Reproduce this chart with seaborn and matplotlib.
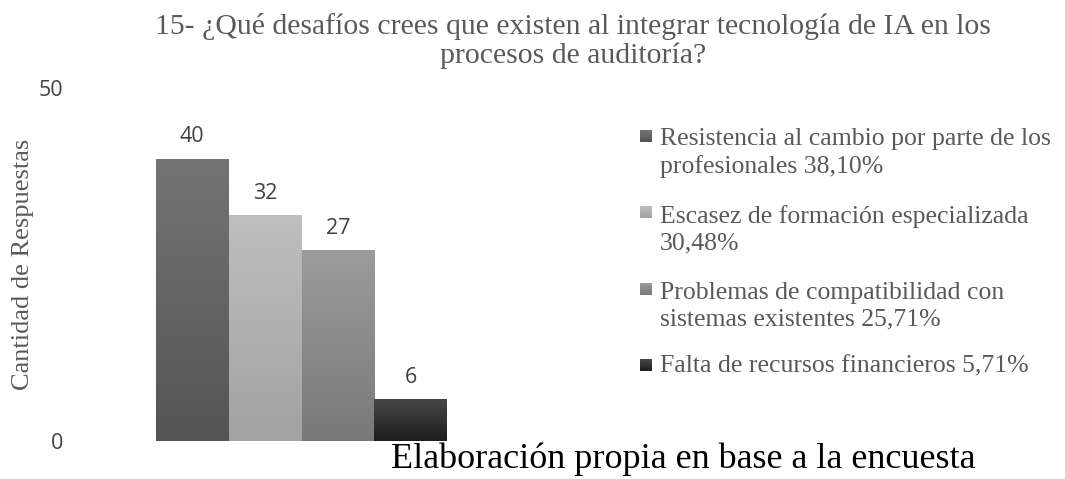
import textwrap
import numpy as np
import pandas as pd
import seaborn as sns
import matplotlib.pyplot as plt
from matplotlib.colors import to_rgb

# datos
desafios = [
    "Resistencia al cambio por parte de los profesionales",
    "Escasez de formación especializada",
    "Problemas de compatibilidad con sistemas existentes",
    "Falta de recursos financieros",
]
respuestas = [40, 32, 27, 6]
porcentajes = ["38,10%", "30,48%", "25,71%", "5,71%"]
yticks = [0, 50]

titulo = "15- ¿Qué desafíos crees que existen al integrar tecnología de IA en los\nprocesos de auditoría?"
ylabel = "Cantidad de Respuestas"
fuente = "Elaboración propia en base a la encuesta"

# colores (arriba, abajo) del degradado de cada barra
degradados = [("#747474", "#545454"), ("#bebebe", "#a2a2a2"),
              ("#9b9b9b", "#797979"), ("#474747", "#1e1e1e")]
base = ["#616161", "#b1b1b1", "#8a8a8a", "#2e2e2e"]

df = pd.DataFrame({"grupo": "", "desafio": desafios, "respuestas": respuestas})

sns.set_theme(style="white")
plt.rcParams["font.family"] = ["Liberation Serif", "DejaVu Serif"]
sans = ["Open Sans", "DejaVu Sans"]

W, H = 1065, 479
fig = plt.figure(figsize=(W / 100, H / 100), dpi=100)
ax = fig.add_axes([83 / W, 1 - 441 / H, 437 / W, 353 / H])

sns.barplot(data=df, x="grupo", y="respuestas", hue="desafio", palette=base,
            hue_order=desafios, saturation=1, width=0.8, gap=0, linewidth=0,
            legend=False, ax=ax)

# degradado vertical dentro de cada barra
for patch, (top, bot) in zip(ax.patches, degradados):
    x0, y0 = patch.get_x(), patch.get_y()
    w, h = patch.get_width(), patch.get_height()
    grad = np.linspace(to_rgb(top), to_rgb(bot), 64)[:, None, :]
    im = ax.imshow(grad, extent=[x0, x0 + w, y0, y0 + h], aspect="auto",
                   origin="upper", zorder=patch.get_zorder() + 0.1)
    im.set_clip_path(patch)

for cont in ax.containers:
    ax.bar_label(cont, fmt="%d", padding=8, fontsize=15.5, color="#404040",
                 family=sans)

ax.set_xlim(-0.6, 0.6)
ax.set_ylim(0, 50)
ax.set_yticks(yticks)
ax.set_xticks([])
ax.set_xlabel("")
ax.set_ylabel("")
ax.tick_params(axis="y", length=0, pad=14, labelsize=15.5, labelcolor="#404040")
for lab in ax.get_yticklabels():
    lab.set_family(sans)
sns.despine(ax=ax, left=True, bottom=True)

# capa en pixeles para textos y leyenda
lax = fig.add_axes([0, 0, 1, 1])
lax.set_xlim(0, W)
lax.set_ylim(H, 0)
lax.axis("off")

lax.text(573, 63, titulo, ha="center", va="baseline", fontsize=21.4,
         color="#595959", linespacing=1.12)
lax.text(23, 264, ylabel, ha="center", va="center", rotation=90,
         fontsize=19, color="#595959")
lax.text(683, 468, fuente, ha="center", va="baseline", fontsize=26,
         color="black")

for i, (d, p, (top, bot)) in enumerate(zip(desafios, porcentajes, degradados)):
    yb = 144 + 76.3 * i
    etiqueta = textwrap.fill(f"{d} {p}", width=38)
    n = etiqueta.count("\n")
    sq = np.linspace(to_rgb(top), to_rgb(bot), 16)[:, None, :]
    lax.imshow(sq, extent=[640, 652, yb - 2, yb - 14], aspect="auto")
    lax.text(660, yb + 29 * n, etiqueta, ha="left", va="baseline",
             fontsize=18.5, color="#595959", linespacing=1.28)

lax.set_xlim(0, W)
lax.set_ylim(H, 0)

fig.savefig("out.png", dpi=100)
